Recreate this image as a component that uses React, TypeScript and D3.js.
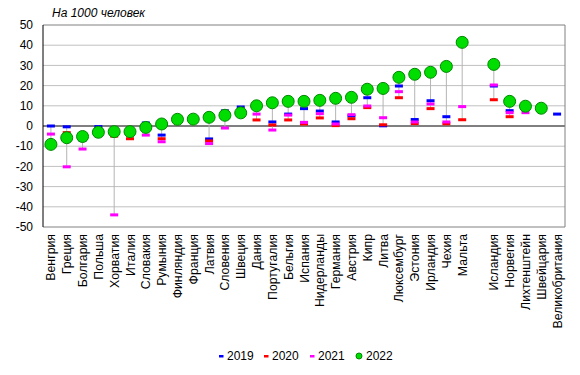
import React from "react";
import * as d3 from "d3";

const countries = ["Венгрия","Греция","Болгария","Польша","Хорватия","Италия","Словакия","Румыния","Финляндия","Франция","Латвия","Словения","Швеция","Дания","Португалия","Бельгия","Испания","Нидерланды","Германия","Австрия","Кипр","Литва","Люксембург","Эстония","Ирландия","Чехия","Мальта","","Исландия","Норвегия","Лихтенштейн","Швейцария","Великобритания"];

const v2019: (number|null)[] = [0,-0.4,-7,-0.3,-4,-3,1.5,-4.5,3,3.5,-6.4,7.5,9.4,10,2,5.9,8.6,7.4,2,5,14,0.1,19.8,3.2,12.5,4.6,null,null,19.8,7.6,10,9,5.9];
const v2020: (number|null)[] = [-8.5,-3.3,-5,-3.5,-5,-6.3,0.8,-6.3,1.8,3.5,-7.4,6.8,5,3,0.5,3,1,4,0.2,3.6,9.1,0.6,14,1.2,8.6,1.1,3.1,null,13,4.6,8.3,8,null];
const v2021: (number|null)[] = [-4,-20.2,-11.4,-4.8,-44,-2.5,-4.5,-7.8,3,3.5,-8.7,-1,7,5.9,-2,5.4,1.8,6.1,1,5.6,9.9,4.1,17,2,10.9,2,9.6,null,20.3,6.6,6.6,9,null];
const v2022: (number|null)[] = [-9.1,-5.8,-5.2,-3.1,-2.8,-2.8,-0.7,1,3.3,3.4,4.3,5.3,6.5,10,11.5,12.2,12.2,12.7,13.7,14.2,18.2,18.6,24.1,25.6,26.6,29.5,41.4,null,30.5,12.2,9.8,8.8,null];

const yTicks = [50,40,30,20,10,0,-10,-20,-30,-40,-50];
const years = ["2019","2020","2021","2022"];
const yearColors = ["#0000ff","#ff0000","#ff00ff","#00dd00"];

export default function App() {
  const W = 580, H = 375;
  const left = 43, right = 565, top = 25, bottom = 227;
  const x = d3.scaleBand<string>().domain(countries.map((c, i) => i + "")).range([left, right]).paddingInner(0).paddingOuter(0);
  const y = d3.scaleLinear().domain([-50, 50]).range([bottom, top]);
  const bw = x.bandwidth();
  const cx = (i: number) => (x(i + "") as number) + bw / 2;
  const series = [v2019, v2020, v2021, v2022];
  const font = "Arial, 'Liberation Sans', sans-serif";

  return (
    <svg width={W} height={H} style={{ position: "absolute", left: 0, top: 0, background: "#fff" }} fontFamily={font}>
      <rect x={0} y={0} width={W} height={H} fill="#fff" />
      {yTicks.map(t => (
        <line key={"g" + t} x1={left} x2={right} y1={y(t)} y2={y(t)} stroke={t === 0 ? "#000" : t === 50 || t === -50 ? "#808080" : "#c0c0c0"} strokeWidth={1} />
      ))}
      <line x1={right} x2={right} y1={top} y2={bottom} stroke="#808080" />
      <line x1={left} x2={left} y1={top} y2={bottom} stroke="#000" />
      {yTicks.map(t => (
        <text key={"t" + t} x={33} y={y(t)} dy="0.35em" textAnchor="end" fontSize={12} fill="#000">{t}</text>
      ))}
      <text x={52} y={17} fontSize={12} fontStyle="italic" fill="#000">На 1000 человек</text>
      {countries.map((c, i) => {
        const vals = series.map(s => s[i]).filter(v => v !== null) as number[];
        if (vals.length < 2) return null;
        const mn = d3.min(vals) as number, mx = d3.max(vals) as number;
        return <line key={"hl" + i} x1={cx(i)} x2={cx(i)} y1={y(mn)} y2={y(mx)} stroke="#b4b4b4" strokeWidth={1} />;
      })}
      {series.slice(0, 3).map((s, si) =>
        s.map((v, i) => v === null ? null : (
          <rect key={"m" + si + "_" + i} x={cx(i) - 4} y={y(v) - 1.5} width={8} height={3} fill={yearColors[si]} />
        ))
      )}
      {v2022.map((v, i) => v === null ? null : (
        <circle key={"c" + i} cx={cx(i)} cy={y(v)} r={6} fill="#00dd00" stroke="#008800" strokeWidth={1} />
      ))}
      {countries.map((c, i) => (
        <text key={"l" + i} transform={`translate(${cx(i) + 4.5},${bottom + 7}) rotate(-90)`} textAnchor="end" fontSize={12.3} fill="#000">{c}</text>
      ))}
      {years.map((yr, i) => {
        const lx = [219, 264, 310, 358][i];
        return (
          <g key={"lg" + yr}>
            {i < 3 ? <rect x={lx} y={355} width={4.5} height={2.5} fill={yearColors[i]} /> :
              <circle cx={lx + 1} cy={356} r={3} fill="#00dd00" stroke="#008800" strokeWidth={1} />}
            <text x={lx + 8} y={356} dy="0.35em" fontSize={12} fill="#000">{yr}</text>
          </g>
        );
      })}
    </svg>
  );
}
